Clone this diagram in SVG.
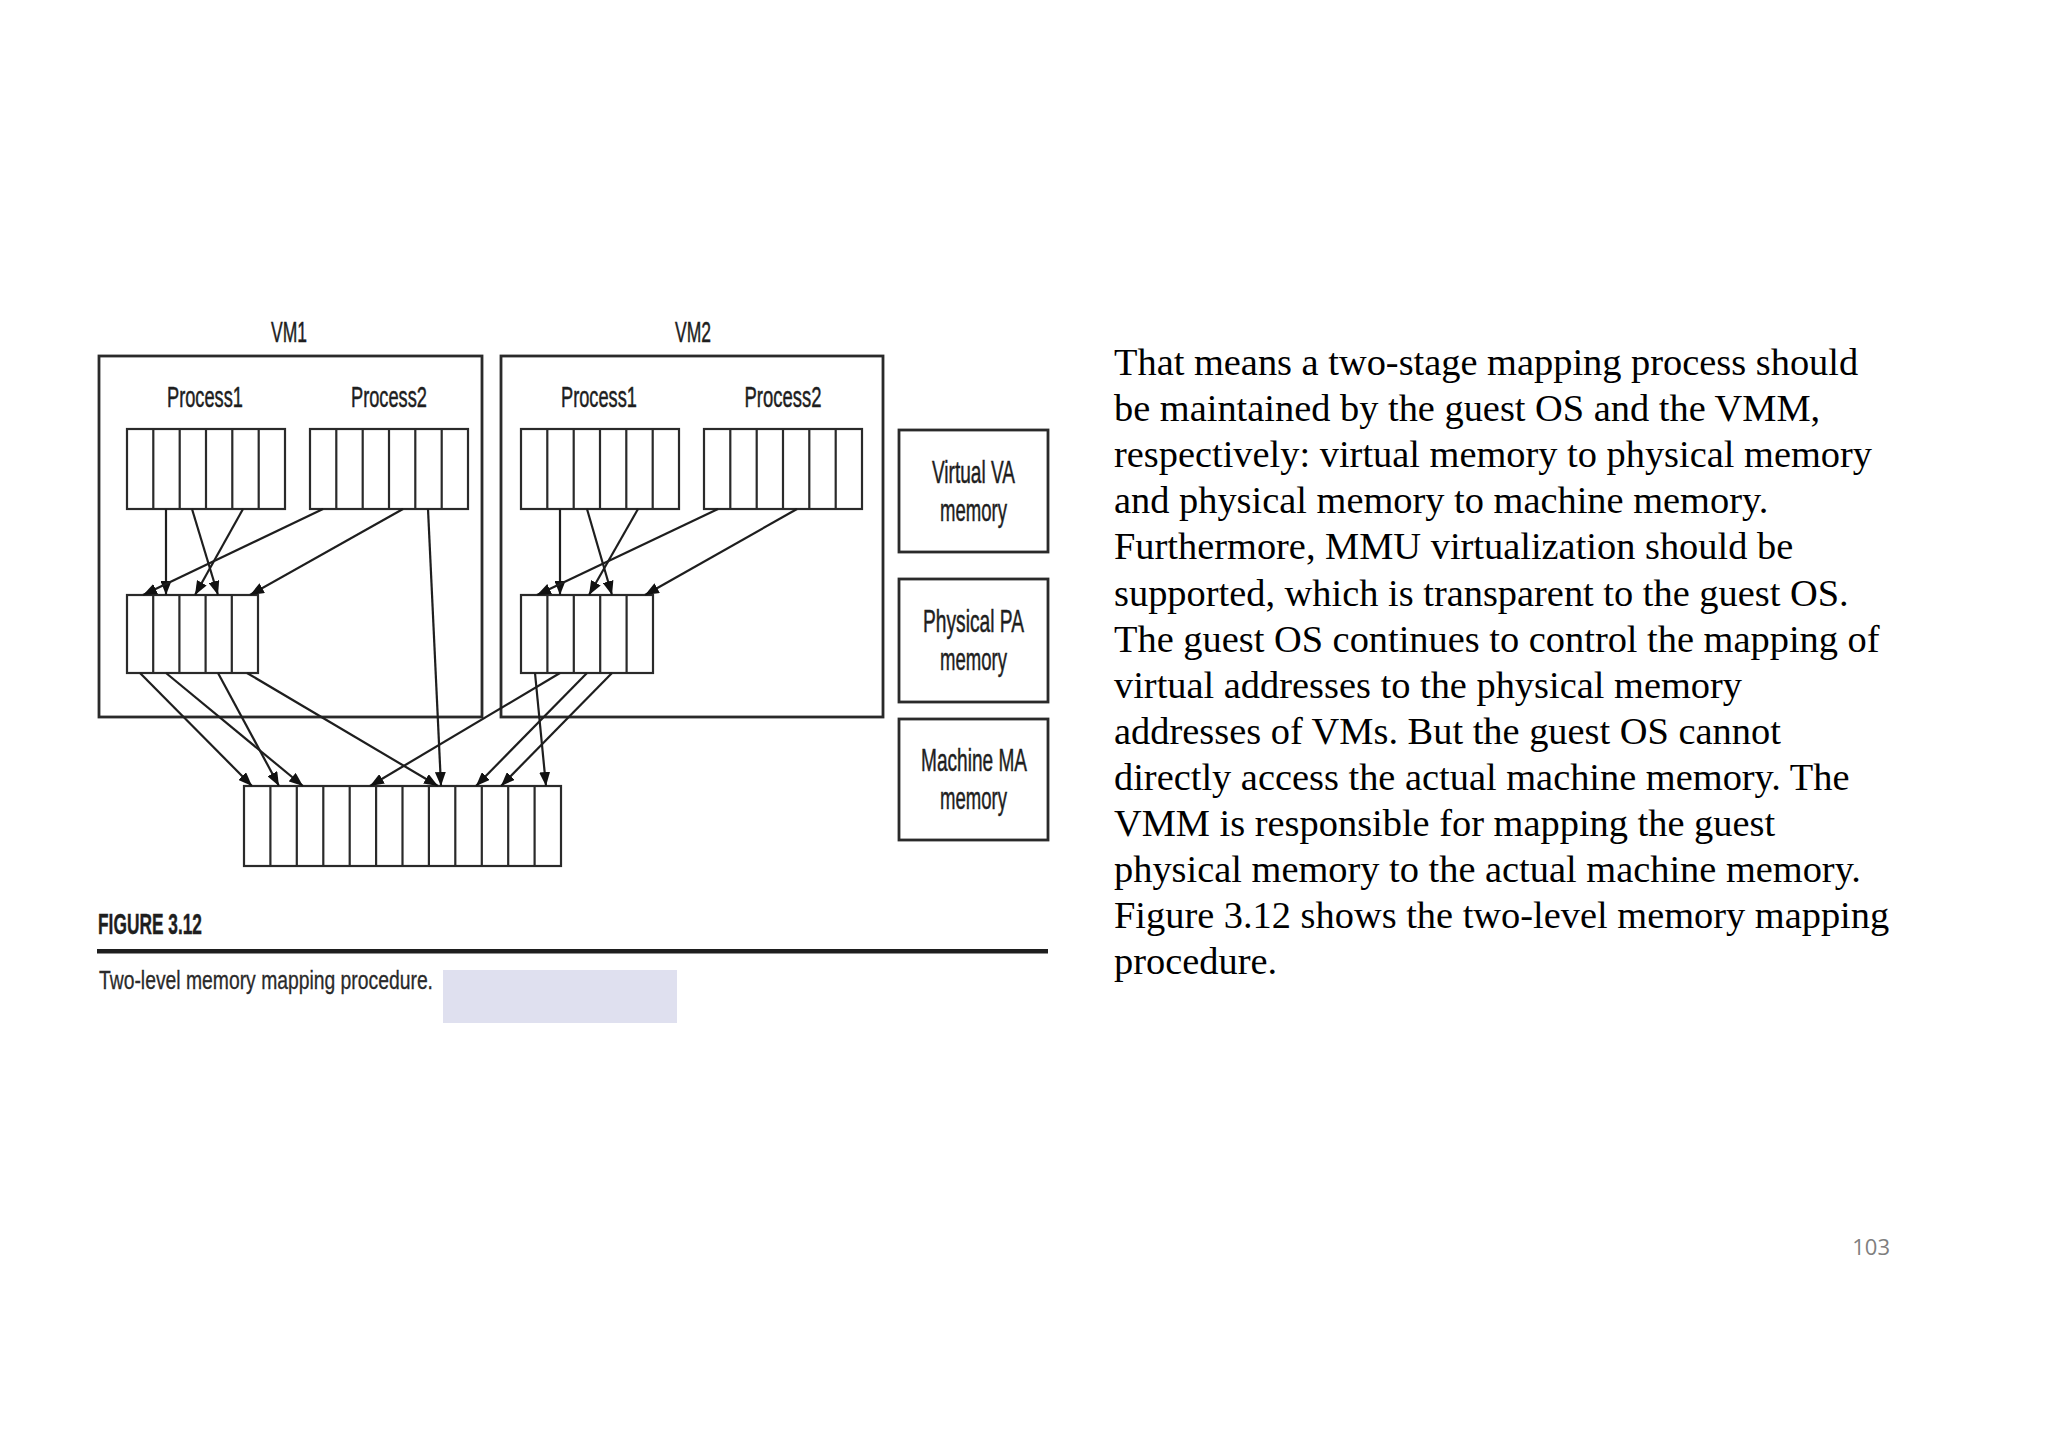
<svg xmlns="http://www.w3.org/2000/svg" width="2048" height="1448" viewBox="0 0 2048 1448">
<style>
.box{fill:#fff;stroke:#2a2a2a;stroke-width:2.8}
.cell{fill:none;stroke:#2a2a2a;stroke-width:2.2}
.lbl{font-family:"Liberation Sans",Arial,sans-serif;font-size:30px;fill:#1e1e1e;text-anchor:middle;stroke:#1e1e1e;stroke-width:0.5}
.leg{font-size:32px}
.con{stroke:#1e1e1e;stroke-width:2.2;fill:none;marker-end:url(#ah)}
.para{font-family:"Liberation Serif","Times New Roman",serif;font-size:38.4px;fill:#000}
</style>
<defs>
<marker id="ah" markerUnits="userSpaceOnUse" markerWidth="14" markerHeight="11" refX="14" refY="5.5" orient="auto">
<path d="M0,0 L14,5.5 L0,11 z" fill="#111"/>
</marker>
</defs>
<rect width="2048" height="1448" fill="#fff"/>

<g id="vm1">
<rect class="box" x="99" y="356" width="383" height="361"/>
<text class="lbl" x="289" y="342" textLength="36" lengthAdjust="spacingAndGlyphs">VM1</text>
</g>
<g id="vm2">
<rect class="box" x="501" y="356" width="382" height="361"/>
<text class="lbl" x="693" y="342" textLength="36" lengthAdjust="spacingAndGlyphs">VM2</text>
</g>

<g id="vm1-process1">
<text class="lbl" x="205" y="407" textLength="76" lengthAdjust="spacingAndGlyphs">Process1</text>
<rect class="cell" x="127" y="429" width="158" height="80"/>
<path class="cell" d="M153.3,429V509M179.7,429V509M206,429V509M232.3,429V509M258.7,429V509"/>
</g>
<g id="vm1-process2">
<text class="lbl" x="389" y="407" textLength="76" lengthAdjust="spacingAndGlyphs">Process2</text>
<rect class="cell" x="310" y="429" width="158" height="80"/>
<path class="cell" d="M336.3,429V509M362.7,429V509M389,429V509M415.3,429V509M441.7,429V509"/>
</g>
<g id="vm1-physical">
<rect class="cell" x="127" y="595" width="131" height="78"/>
<path class="cell" d="M153.2,595V673M179.4,595V673M205.6,595V673M231.8,595V673"/>
</g>

<g id="vm2-process1">
<text class="lbl" x="599" y="407" textLength="76" lengthAdjust="spacingAndGlyphs">Process1</text>
<rect class="cell" x="521" y="429" width="158" height="80"/>
<path class="cell" d="M547.3,429V509M573.7,429V509M600,429V509M626.3,429V509M652.7,429V509"/>
</g>
<g id="vm2-process2">
<text class="lbl" x="783" y="407" textLength="77" lengthAdjust="spacingAndGlyphs">Process2</text>
<rect class="cell" x="704" y="429" width="158" height="80"/>
<path class="cell" d="M730.3,429V509M756.7,429V509M783,429V509M809.3,429V509M835.7,429V509"/>
</g>
<g id="vm2-physical">
<rect class="cell" x="521" y="595" width="132" height="78"/>
<path class="cell" d="M547.4,595V673M573.8,595V673M600.2,595V673M626.6,595V673"/>
</g>

<g id="machine-memory">
<rect class="cell" x="244" y="786" width="317" height="80"/>
<path class="cell" d="M270.4,786V866M296.8,786V866M323.3,786V866M349.7,786V866M376.1,786V866M402.5,786V866M428.9,786V866M455.3,786V866M481.8,786V866M508.2,786V866M534.6,786V866"/>
</g>

<g id="legend-virtual">
<rect class="box" x="899" y="430" width="149" height="122"/>
<text class="lbl leg" x="973.5" y="483" textLength="83" lengthAdjust="spacingAndGlyphs">Virtual VA</text>
<text class="lbl leg" x="973.5" y="521" textLength="67" lengthAdjust="spacingAndGlyphs">memory</text>
</g>
<g id="legend-physical">
<rect class="box" x="899" y="579" width="149" height="123"/>
<text class="lbl leg" x="973.5" y="631.5" textLength="101" lengthAdjust="spacingAndGlyphs">Physical PA</text>
<text class="lbl leg" x="973.5" y="669.5" textLength="67" lengthAdjust="spacingAndGlyphs">memory</text>
</g>
<g id="legend-machine">
<rect class="box" x="899" y="719" width="149" height="121"/>
<text class="lbl leg" x="974" y="770.5" textLength="106" lengthAdjust="spacingAndGlyphs">Machine MA</text>
<text class="lbl leg" x="973.5" y="808.5" textLength="67" lengthAdjust="spacingAndGlyphs">memory</text>
</g>

<g id="connectors">
<line class="con" x1="166" y1="509" x2="166" y2="595"/>
<line class="con" x1="192" y1="509" x2="218" y2="595"/>
<line class="con" x1="243" y1="509" x2="195" y2="595"/>
<line class="con" x1="323" y1="509" x2="143" y2="595"/>
<line class="con" x1="403" y1="509" x2="250" y2="595"/>
<line class="con" x1="428" y1="509" x2="441" y2="786"/>
<line class="con" x1="560" y1="509" x2="560" y2="595"/>
<line class="con" x1="587" y1="509" x2="612" y2="595"/>
<line class="con" x1="638" y1="509" x2="589" y2="595"/>
<line class="con" x1="718" y1="509" x2="537" y2="595"/>
<line class="con" x1="797" y1="509" x2="645" y2="595"/>
<line class="con" x1="140" y1="673" x2="252" y2="786"/>
<line class="con" x1="166" y1="673" x2="303" y2="786"/>
<line class="con" x1="218" y1="673" x2="279" y2="786"/>
<line class="con" x1="247" y1="673" x2="438" y2="786"/>
<line class="con" x1="535" y1="673" x2="546" y2="786"/>
<line class="con" x1="560" y1="673" x2="370" y2="786"/>
<line class="con" x1="587" y1="673" x2="476" y2="786"/>
<line class="con" x1="612" y1="673" x2="501" y2="786"/>
</g>

<g id="caption">
<text x="98" y="934" font-family="'Liberation Sans',Arial,sans-serif" font-weight="bold" font-size="29.5" fill="#1e1e1e" stroke="#1e1e1e" stroke-width="0.4" textLength="104" lengthAdjust="spacingAndGlyphs">FIGURE 3.12</text>
<rect x="97" y="949" width="951" height="4.5" fill="#1e1e1e"/>
<text x="99" y="989" font-family="'Liberation Sans',Arial,sans-serif" font-size="25.5" fill="#2a2a2a" stroke="#2a2a2a" stroke-width="0.3" textLength="334" lengthAdjust="spacingAndGlyphs">Two-level memory mapping procedure.</text>
<rect x="443" y="970" width="234" height="53" fill="#dfe0ef"/>
</g>

<g id="body-text">
<text class="para" x="1114" y="375">
<tspan x="1114" y="375">That means a two-stage mapping process should</tspan>
<tspan x="1114" y="421.1">be maintained by the guest OS and the VMM,</tspan>
<tspan x="1114" y="467.2">respectively: virtual memory to physical memory</tspan>
<tspan x="1114" y="513.3">and physical memory to machine memory.</tspan>
<tspan x="1114" y="559.4">Furthermore, MMU virtualization should be</tspan>
<tspan x="1114" y="605.5">supported, which is transparent to the guest OS.</tspan>
<tspan x="1114" y="651.6">The guest OS continues to control the mapping of</tspan>
<tspan x="1114" y="697.7">virtual addresses to the physical memory</tspan>
<tspan x="1114" y="743.8">addresses of VMs. But the guest OS cannot</tspan>
<tspan x="1114" y="789.9">directly access the actual machine memory. The</tspan>
<tspan x="1114" y="836">VMM is responsible for mapping the guest</tspan>
<tspan x="1114" y="882.1">physical memory to the actual machine memory.</tspan>
<tspan x="1114" y="928.2">Figure 3.12 shows the two-level memory mapping</tspan>
<tspan x="1114" y="974.3">procedure.</tspan>
</text>
</g>

<text id="page-number" x="1890" y="1255" font-family="'Open Sans','Liberation Sans',sans-serif" font-size="22" fill="#7f7f7f" text-anchor="end">103</text>
</svg>
